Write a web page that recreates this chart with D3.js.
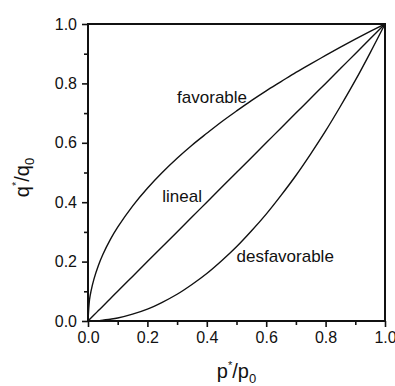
<!DOCTYPE html>
<html>
<head>
<meta charset="utf-8">
<script src="https://cdn.jsdelivr.net/npm/d3@7/dist/d3.min.js"></script>
<style>
  html, body { margin: 0; padding: 0; background: #fff; }
  svg { display: block; }
  text { font-family: "Liberation Sans", Arial, sans-serif; fill: #111; }
</style>
</head>
<body>
<svg id="chart" width="395" height="386"></svg>
<script>
// ---- data ----
const pValues      = [0, 0.005, 0.01, 0.02, 0.035, 0.05, 0.075, 0.1, 0.15, 0.2, 0.25, 0.3, 0.35, 0.4, 0.45, 0.5, 0.55, 0.6, 0.65, 0.7, 0.75, 0.8, 0.85, 0.9, 0.95, 1.0];
const favorable    = [0, 0.071, 0.100, 0.141, 0.187, 0.224, 0.274, 0.316, 0.387, 0.447, 0.500, 0.548, 0.592, 0.632, 0.671, 0.707, 0.742, 0.775, 0.806, 0.837, 0.866, 0.894, 0.922, 0.949, 0.975, 1.0];
const lineal       = [0, 0.005, 0.01, 0.02, 0.035, 0.05, 0.075, 0.1, 0.15, 0.2, 0.25, 0.3, 0.35, 0.4, 0.45, 0.5, 0.55, 0.6, 0.65, 0.7, 0.75, 0.8, 0.85, 0.9, 0.95, 1.0];
const desfavorable = [0, 0.000, 0.000, 0.000, 0.001, 0.003, 0.006, 0.010, 0.023, 0.040, 0.063, 0.090, 0.123, 0.160, 0.203, 0.250, 0.303, 0.360, 0.423, 0.490, 0.563, 0.640, 0.723, 0.810, 0.903, 1.0];
const majorTicks   = [0, 0.2, 0.4, 0.6, 0.8, 1.0];
const minorTicks   = [0.1, 0.3, 0.5, 0.7, 0.9];
const curveLabels  = [
  { text: "favorable",    p: 0.30, q: 0.735 },
  { text: "lineal",       p: 0.25, q: 0.40 },
  { text: "desfavorable", p: 0.50, q: 0.20 }
];

// ---- layout ----
const svg = d3.select("#chart");
const mLeft = 88, mRight = 385, mTop = 24, mBottom = 321;
const x = d3.scaleLinear().domain([0, 1]).range([mLeft, mRight]);
const y = d3.scaleLinear().domain([0, 1]).range([mBottom, mTop]);

// curves
const line = d3.line().x(d => x(d[0])).y(d => y(d[1])).curve(d3.curveCatmullRom.alpha(0.5));
[favorable, lineal, desfavorable].forEach(series => {
  svg.append("path")
    .datum(pValues.map((p, i) => [p, series[i]]))
    .attr("d", line)
    .attr("fill", "none")
    .attr("stroke", "#111")
    .attr("stroke-width", 1.4);
});

// frame
svg.append("rect")
  .attr("x", mLeft).attr("y", mTop)
  .attr("width", mRight - mLeft).attr("height", mBottom - mTop)
  .attr("fill", "none").attr("stroke", "#111").attr("stroke-width", 2);

// axes
const fmt = d3.format(".1f");
svg.append("g").attr("transform", `translate(0,${mBottom})`)
  .call(d3.axisBottom(x).tickValues(majorTicks).tickFormat(fmt).tickSize(6).tickPadding(5));
svg.append("g").attr("transform", `translate(0,${mBottom})`)
  .call(d3.axisBottom(x).tickValues(minorTicks).tickFormat("").tickSize(4));
svg.append("g").attr("transform", `translate(${mLeft},0)`)
  .call(d3.axisLeft(y).tickValues(majorTicks).tickFormat(fmt).tickSize(6).tickPadding(5));
svg.append("g").attr("transform", `translate(${mLeft},0)`)
  .call(d3.axisLeft(y).tickValues(minorTicks).tickFormat("").tickSize(4));

svg.selectAll(".domain").remove();
svg.selectAll(".tick line").attr("stroke", "#111").attr("stroke-width", 1.6);
svg.selectAll(".tick text")
  .style("font-family", "'Liberation Sans', Arial, sans-serif")
  .style("font-size", "16px").attr("fill", "#111");

// curve labels
curveLabels.forEach(l => {
  svg.append("text")
    .attr("x", x(l.p)).attr("y", y(l.q))
    .attr("font-size", 17)
    .text(l.text);
});

// axis titles
const xt = svg.append("text")
  .attr("x", (mLeft + mRight) / 2).attr("y", 378)
  .attr("text-anchor", "middle").attr("font-size", 20);
xt.append("tspan").text("p");
xt.append("tspan").attr("font-size", 11).attr("dy", -9).text("*");
xt.append("tspan").attr("dy", 9).text("/p");
xt.append("tspan").attr("font-size", 13).attr("dy", 5).text("0");

const yt = svg.append("text")
  .attr("transform", `translate(29,${(mTop + mBottom) / 2 + 5}) rotate(-90)`)
  .attr("text-anchor", "middle").attr("font-size", 20);
yt.append("tspan").text("q");
yt.append("tspan").attr("font-size", 11).attr("dy", -9).text("*");
yt.append("tspan").attr("dy", 9).text("/q");
yt.append("tspan").attr("font-size", 13).attr("dy", 5).text("0");
</script>
</body>
</html>
